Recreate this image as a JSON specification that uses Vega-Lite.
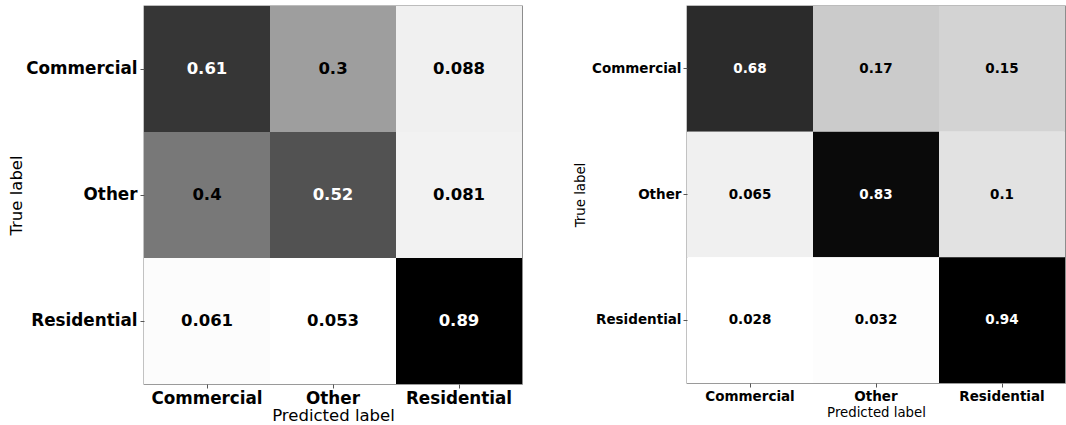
{
  "$schema": "https://vega.github.io/schema/vega-lite/v6.json",
  "padding": {"left": 8, "top": 5, "right": 0, "bottom": 0},
  "spacing": 49,
  "resolve": {"scale": {"color": "independent"}},
  "config": {
    "font": "DejaVu Sans",
    "view": {"stroke": "#7a7a7a", "strokeWidth": 1.3},
    "axis": {
      "domain": false,
      "grid": false,
      "ticks": true,
      "tickSize": 4,
      "tickColor": "#555555",
      "labelColor": "#000000",
      "titleColor": "#000000",
      "labelFontWeight": "bold",
      "titleFontWeight": "normal",
      "labelAngle": 0
    }
  },
  "hconcat": [
    {
      "width": 378,
      "height": 378,
      "data": {
        "values": [
          {"actual": "Commercial", "predicted": "Commercial", "value": 0.61},
          {"actual": "Commercial", "predicted": "Other", "value": 0.3},
          {"actual": "Commercial", "predicted": "Residential", "value": 0.088},
          {"actual": "Other", "predicted": "Commercial", "value": 0.4},
          {"actual": "Other", "predicted": "Other", "value": 0.52},
          {"actual": "Other", "predicted": "Residential", "value": 0.081},
          {"actual": "Residential", "predicted": "Commercial", "value": 0.061},
          {"actual": "Residential", "predicted": "Other", "value": 0.053},
          {"actual": "Residential", "predicted": "Residential", "value": 0.89}
        ]
      },
      "encoding": {
        "x": {
          "field": "predicted",
          "type": "nominal",
          "scale": {"domain": ["Commercial", "Other", "Residential"]},
          "axis": {"title": "Predicted label", "labelFontSize": 16.8, "titleFontSize": 16.5, "labelPadding": 2, "titlePadding": 1}
        },
        "y": {
          "field": "actual",
          "type": "nominal",
          "scale": {"domain": ["Commercial", "Other", "Residential"]},
          "axis": {"title": "True label", "labelFontSize": 16.8, "titleFontSize": 16.5, "labelPadding": 3, "titlePadding": 1}
        }
      },
      "layer": [
        {
          "mark": {"type": "rect"},
          "encoding": {
            "color": {
              "field": "value",
              "type": "ordinal",
              "scale": {
                "type": "ordinal",
                "domain": [0.053, 0.061, 0.081, 0.088, 0.3, 0.4, 0.52, 0.61, 0.89],
                "range": ["#ffffff", "#fcfcfc", "#f2f2f2", "#f0f0f0", "#9e9e9e", "#787878", "#525252", "#363636", "#000000"]
              },
              "legend": null
            }
          }
        },
        {
          "mark": {"type": "text", "fontSize": 16.5, "fontWeight": "bold", "baseline": "middle", "align": "center"},
          "encoding": {
            "text": {"field": "value", "type": "nominal"},
            "color": {"condition": {"test": "datum.value > 0.47", "value": "#ffffff"}, "value": "#000000"}
          }
        }
      ]
    },
    {
      "width": 378,
      "height": 377,
      "data": {
        "values": [
          {"actual": "Commercial", "predicted": "Commercial", "value": 0.68},
          {"actual": "Commercial", "predicted": "Other", "value": 0.17},
          {"actual": "Commercial", "predicted": "Residential", "value": 0.15},
          {"actual": "Other", "predicted": "Commercial", "value": 0.065},
          {"actual": "Other", "predicted": "Other", "value": 0.83},
          {"actual": "Other", "predicted": "Residential", "value": 0.1},
          {"actual": "Residential", "predicted": "Commercial", "value": 0.028},
          {"actual": "Residential", "predicted": "Other", "value": 0.032},
          {"actual": "Residential", "predicted": "Residential", "value": 0.94}
        ]
      },
      "encoding": {
        "x": {
          "field": "predicted",
          "type": "nominal",
          "scale": {"domain": ["Commercial", "Other", "Residential"]},
          "axis": {"title": "Predicted label", "labelFontSize": 13.5, "titleFontSize": 13.3, "labelPadding": 2, "titlePadding": 3}
        },
        "y": {
          "field": "actual",
          "type": "nominal",
          "scale": {"domain": ["Commercial", "Other", "Residential"]},
          "axis": {"title": "True label", "labelFontSize": 13.5, "titleFontSize": 13.3, "labelPadding": 2, "titlePadding": 4}
        }
      },
      "layer": [
        {
          "mark": {"type": "rect"},
          "encoding": {
            "color": {
              "field": "value",
              "type": "ordinal",
              "scale": {
                "type": "ordinal",
                "domain": [0.028, 0.032, 0.065, 0.1, 0.15, 0.17, 0.68, 0.83, 0.94],
                "range": ["#ffffff", "#fdfdfd", "#f0f0f0", "#e2e2e2", "#d3d3d3", "#cbcbcb", "#2b2b2b", "#0a0a0a", "#000000"]
              },
              "legend": null
            }
          }
        },
        {
          "mark": {"type": "text", "fontSize": 13.5, "fontWeight": "bold", "baseline": "middle", "align": "center"},
          "encoding": {
            "text": {"field": "value", "type": "nominal"},
            "color": {"condition": {"test": "datum.value > 0.48", "value": "#ffffff"}, "value": "#000000"}
          }
        }
      ]
    }
  ]
}
